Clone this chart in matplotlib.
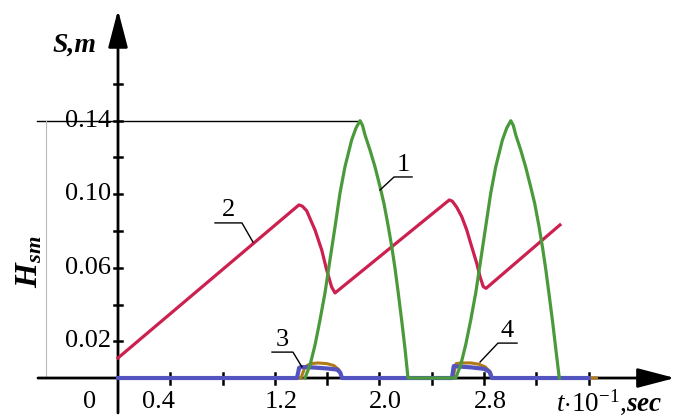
import matplotlib
matplotlib.use("Agg")
import matplotlib.pyplot as plt

plt.rcParams['font.family'] = ['Liberation Serif', 'DejaVu Serif']
plt.rcParams['mathtext.fontset'] = 'custom'
plt.rcParams['mathtext.rm'] = 'Liberation Serif'
plt.rcParams['mathtext.it'] = 'Liberation Serif:italic'
plt.rcParams['mathtext.bf'] = 'Liberation Serif:italic:bold'

# curve 1 - displacement S (two lift arches)
t1 = [1.430, 1.469, 1.507, 1.545, 1.583, 1.621, 1.660, 1.698, 1.736, 1.787, 1.820,
      1.851, 1.870, 1.889, 1.927, 1.966, 2.004, 2.034, 2.067, 2.096, 2.119, 2.144,
      2.172, 2.195, 2.218,
      2.583, 2.621, 2.659, 2.698, 2.736, 2.774, 2.812, 2.851, 2.889, 2.940, 2.973,
      3.004, 3.023, 3.042, 3.080, 3.118, 3.156, 3.187, 3.220, 3.248, 3.271, 3.296,
      3.325, 3.348, 3.375]
s1 = [0.0, 0.0071, 0.0180, 0.0316, 0.0463, 0.0642, 0.0823, 0.1007, 0.1150, 0.1295, 0.1360,
      0.140, 0.1375, 0.1323, 0.1241, 0.1148, 0.1041, 0.0950, 0.0825, 0.0705, 0.0595, 0.0460,
      0.0300, 0.0160, 0.0,
      0.0, 0.0071, 0.0180, 0.0316, 0.0463, 0.0642, 0.0823, 0.1007, 0.1150, 0.1295, 0.1360,
      0.140, 0.1375, 0.1323, 0.1241, 0.1148, 0.1041, 0.0950, 0.0825, 0.0705, 0.0595, 0.0460,
      0.0300, 0.0160, 0.0]

# curve 2 - sawtooth
t2 = [0.000, 1.384, 1.410, 1.443, 1.507, 1.558, 1.596, 1.634, 1.660,
      2.534, 2.557, 2.590, 2.629, 2.667, 2.705, 2.743, 2.769, 2.794, 2.815, 3.380]
s2 = [0.0109, 0.0942, 0.0935, 0.0910, 0.0805, 0.0697, 0.0588, 0.0495, 0.0463,
      0.0969, 0.0962, 0.0930, 0.0878, 0.0806, 0.0715, 0.0626, 0.0551, 0.0497, 0.0488, 0.0833]

# curve 3 - small blue bumps
t3 = [0.000, 1.369, 1.385, 1.400, 1.500, 1.600, 1.675, 1.700, 1.713,
      2.554, 2.568, 2.600, 2.700, 2.800, 2.840, 2.860, 3.600]
s3 = [0.0, 0.0, 0.0055, 0.0060, 0.0057, 0.0052, 0.0046, 0.0030, 0.0,
      0.0, 0.0065, 0.0063, 0.0058, 0.0050, 0.0035, 0.0, 0.0]

# curve 4 - small brown bumps
t4 = [0.000, 1.400, 1.430, 1.470, 1.530, 1.600, 1.650, 1.690, 1.713,
      2.562, 2.585, 2.620, 2.700, 2.760, 2.810, 2.850, 2.860, 3.660]
s4 = [0.0, 0.0, 0.0060, 0.0078, 0.0082, 0.0078, 0.0068, 0.0045, 0.0,
      0.0, 0.0078, 0.0082, 0.0082, 0.0075, 0.0060, 0.0030, 0.0, 0.0]

xtick_vals = [0.4, 0.8, 1.2, 1.6, 2.0, 2.4, 2.8, 3.2, 3.6]
xtick_labels = ['0.4', '', '1.2', '', '2.0', '', '2.8', '', '']
ytick_vals = [0.02, 0.04, 0.06, 0.08, 0.10, 0.12, 0.14, 0.16]
ytick_labels = ['0.02', '', '0.06', '', '0.10', '', '0.14', '']
s_max = 0.14

fig = plt.figure(figsize=(6.82, 4.19), dpi=100)
ax = fig.add_axes([0, 0, 1, 1])
ax.set_xlim(-0.9025, 4.3136)
ax.set_ylim(-0.0223, 0.2057)
ax.axis('off')

fs = 19
arrow_kw = dict(arrowstyle='-|>,head_length=2.3,head_width=0.6', lw=2.0,
                color='k', shrinkA=0, shrinkB=0)
# axes with arrows
ax.annotate('', xy=(4.26, 0), xytext=(-0.612, 0), arrowprops=arrow_kw, zorder=2)
ax.annotate('', xy=(0, 0.2003), xytext=(0, -0.019), arrowprops=arrow_kw, zorder=2)

for v, lab in zip(xtick_vals, xtick_labels):
    ax.plot([v, v], [-0.003, 0.003], color='k', lw=1.8, zorder=2)
    if lab:
        # the first label sits a little left of its tick
        dx = -0.09 if v < 0.5 else 0.045
        ax.text(v + dx, -0.0131, lab, fontsize=fs, ha='center', va='center')
for v, lab in zip(ytick_vals, ytick_labels):
    ax.plot([-0.034, 0.034], [v, v], color='k', lw=1.8, zorder=2)
    if lab:
        ax.text(-0.053, v, lab, fontsize=fs, ha='right', va='center')
ax.text(-0.214, -0.0131, '0', fontsize=fs, ha='center', va='center')

# reference line for the maximum lift and dimension line
ax.plot([-0.619, 1.851], [s_max, s_max], color='k', lw=1.0, zorder=1)
ax.plot([-0.551, -0.551], [0, s_max], color='#b8b8b8', lw=0.8, zorder=1)

ax.plot(t4, s4, color='#b07a18', lw=2.2, zorder=3)
ax.plot(t3, s3, color='#5454c0', lw=3.0, zorder=4)
ax.plot(t2, s2, color='#cc2050', lw=2.3, zorder=5)
ax.plot(t1, s1, color='#4a9a3c', lw=2.3, zorder=6)

# curve numbers with leader lines
leaders = {
    '1': ([2.004, 2.111, 2.249], [0.1023, 0.1094, 0.1094]),
    '2': ([1.032, 0.948, 0.742], [0.0740, 0.0844, 0.0844]),
    '3': ([1.407, 1.338, 1.178], [0.0060, 0.0141, 0.0141]),
    '4': ([2.769, 2.906, 3.052], [0.0087, 0.0190, 0.0190]),
}
for lab, (lx, ly) in leaders.items():
    ax.plot(lx, ly, color='k', lw=1.0, zorder=7)
    ax.text((lx[1] + lx[2]) / 2, ly[2] + 0.0008, lab, fontsize=fs,
            ha='center', va='bottom')

ax.text(-0.329, 0.1812, 'S,m', fontsize=20, fontweight='bold', style='italic',
        ha='center', va='center')
ax.text(-0.673, 0.0631, r'$\mathbf{H_{sm}}$', fontsize=23, rotation=90,
        ha='center', va='center')
ax.text(3.753, -0.0131, r'$t{\cdot}10^{-1}$,$\mathbf{sec}$', fontsize=19.5,
        ha='center', va='center')

fig.savefig('out.png', dpi=100)
